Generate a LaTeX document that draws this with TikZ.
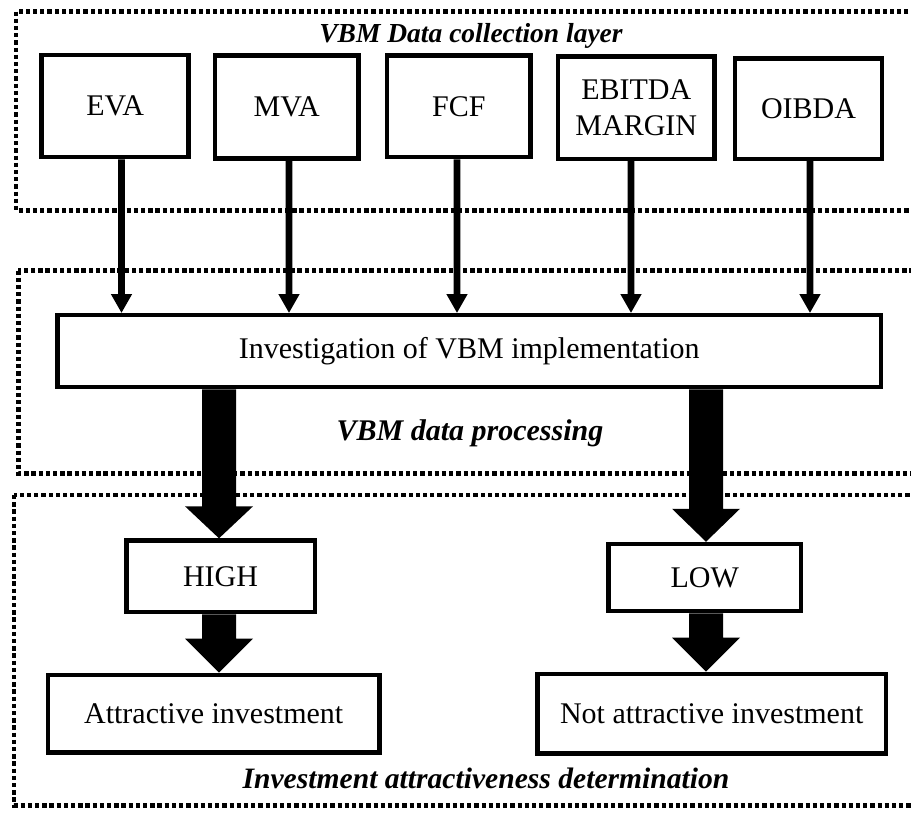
\documentclass[tikz,border=0pt]{standalone}
\usepackage{fontspec}
\setmainfont{Liberation Serif}
\usetikzlibrary{calc}
\newcommand\bigfont{\fontsize{30}{36}\selectfont}
\newcommand\titlefont{\fontsize{27.5}{33}\selectfont}
\newcommand\fatarrow[5]{%
  \fill ($(#1)+(-#3,0)$) -- ($(#2)+(-#3,-#5)$) -- ($(#2)+(-#4,-#5)$) -- (#2)
    -- ($(#2)+(#4,-#5)$) -- ($(#2)+(#3,-#5)$) -- ($(#1)+(#3,0)$) -- cycle;}
\begin{document}
\begin{tikzpicture}[x=1pt,y=-1pt,
  box/.style={draw, fill=white, line width=4.5pt, inner sep=0pt, align=center, font=\bigfont},
  layer/.style={line width=4.5pt, dash pattern=on 4.3pt off 2.9pt},
  title/.style={font=\bigfont\bfseries\itshape, inner sep=0pt}]
\useasboundingbox (0,0) rectangle (911,812);
\clip (0,0) rectangle (911,812);
% layers
\draw[layer] (16,11.5) rectangle (940,210.5);
\draw[layer] (18.3,270.5) rectangle (940,473.3);
\draw[layer] (14.2,495) rectangle (940,805.3);
\node[title, font=\titlefont\bfseries\itshape, anchor=base] (t1) at (471,42) {VBM Data collection layer};
\node[title, anchor=base] (t2) at (470,440) {VBM data processing};
\node[title, font=\fontsize{29.6}{35}\selectfont\bfseries\itshape, anchor=base] (t3) at (486,788) {Investment attractiveness determination};
% top boxes
\node[box, minimum width=147pt, minimum height=102pt] (eva) at (115.2,106) {EVA};
\node[box, minimum width=143.8pt, minimum height=103pt] (mva) at (286.8,106.8) {MVA};
\node[box, minimum width=143.2pt, minimum height=101.5pt] (fcf) at (458.8,106.3) {FCF};
\node[box, minimum width=156.2pt, minimum height=102.2pt] (ebitda) at (636.3,107.7) {EBITDA\\MARGIN};
\node[box, minimum width=147.1pt, minimum height=100.5pt] (oibda) at (808.5,108.5) {OIBDA};
% investigation
\node[box, minimum width=823.8pt, minimum height=72.1pt] (inv) at (469.2,351) {Investigation of VBM implementation};
% high/low
\node[box, minimum width=188.5pt, minimum height=71.5pt] (high) at (220.5,576.3) {HIGH};
\node[box, minimum width=192.8pt, minimum height=67pt] (low) at (704.7,577.5) {LOW};
\node[box, minimum width=331.5pt, minimum height=77.8pt] (attr) at (213.7,713.8) {Attractive investment};
\node[box, minimum width=348.8pt, minimum height=79.5pt] (nattr) at (711.7,713.7) {Not attractive investment};
% small arrows
\coordinate (s1) at ([xshift=6.3pt]eva.south);
\coordinate (s2) at ([xshift=2.2pt]mva.south);
\coordinate (s3) at ([xshift=-1.8pt]fcf.south);
\coordinate (s4) at ([xshift=-5.3pt]ebitda.south);
\coordinate (s5) at ([xshift=1.5pt]oibda.south);
\foreach \i in {1,...,5}{
  \coordinate (e\i) at (s\i |- inv.north);
  \fatarrow{s\i}{e\i}{3.35}{10.7}{18.7}
}
% thick arrows
\coordinate (hs) at ([xshift=-1.5pt]high.north |- inv.south);
\coordinate (he) at ([xshift=-1.5pt]high.north);
\fatarrow{hs}{he}{17}{34}{32}
\coordinate (ls) at ([xshift=1.3pt]low.north |- inv.south);
\coordinate (le) at ([xshift=1.3pt]low.north);
\fatarrow{ls}{le}{17}{34}{33}
\coordinate (as) at ([xshift=-1.5pt]high.south);
\coordinate (ae) at (as |- attr.north);
\fatarrow{as}{ae}{17}{34}{34}
\coordinate (ns) at ([xshift=1.3pt]low.south);
\coordinate (ne) at (ns |- nattr.north);
\fatarrow{ns}{ne}{17}{34}{34}
\end{tikzpicture}
\end{document}
